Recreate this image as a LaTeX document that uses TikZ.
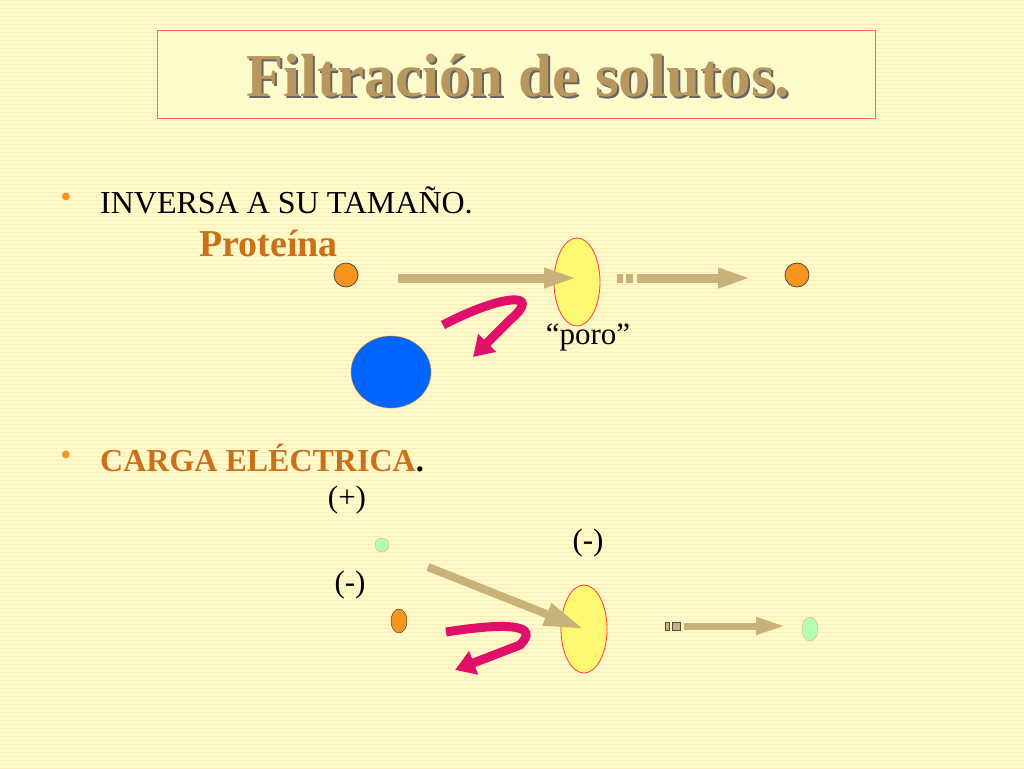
\documentclass[tikz,border=0pt]{standalone}
\usepackage{fontspec}
\setmainfont{Liberation Serif}
\usetikzlibrary{arrows.meta,shapes.geometric}
\definecolor{bg}{HTML}{FEFBCB}
\definecolor{ttl}{HTML}{B8975E}
\definecolor{org}{HTML}{C8701A}
\definecolor{tan}{HTML}{C9B27A}
\definecolor{pinkc}{HTML}{E0106A}
\definecolor{dotor}{HTML}{F7941D}
\definecolor{blu}{HTML}{0066FF}
\begin{document}
\begin{tikzpicture}[x=1pt,y=-1pt,
  fat/.style={line width=9pt,tan,-{Triangle[length=34pt,width=18pt]}},
  pore/.style={ellipse,draw=red!70!pink,fill=yellow!55,minimum width=46pt,minimum height=88pt,inner sep=0pt,line width=0.8pt},
  dot/.style={circle,draw=black!70,fill=dotor,minimum size=24pt,inner sep=0pt,line width=0.8pt},
  curv/.style={line width=9pt,pinkc,-{Triangle[length=20pt,width=24pt]}},
  lbl/.style={font=\fontsize{31}{31}\selectfont,inner sep=0pt}]
\useasboundingbox (0,0) rectangle (1024,768);
\fill[bg] (0,0) rectangle (1024,768);
\foreach \y in {0,4,...,768} \draw[yellow!50!orange!25,line width=0.6pt] (0,\y) -- (1024,\y);
\node[draw=red!60,line width=0.8pt,fill=bg,minimum width=718pt,minimum height=88pt,anchor=north west] (tb) at (157,30) {};
\node[font=\bfseries\fontsize{61}{61}\selectfont,text=black!60,inner sep=0pt] at (520,78) {Filtración de solutos.};
\node[font=\bfseries\fontsize{61}{61}\selectfont,text=ttl,inner sep=0pt] (title) at (518,76) {Filtración de solutos.};
\node[text=dotor,font=\fontsize{32}{32}\selectfont] (b1) at (66,200) {•};
\node[lbl,anchor=west,font=\fontsize{32}{32}\selectfont] (t1) at (100,200) {INVERSA A SU TAMAÑO.};
\node[font=\bfseries\fontsize{38}{38}\selectfont,text=org,anchor=west,inner sep=0pt] (prot) at (199,243) {Proteína};
\node[dot] (o1) at (346,275) {};
\node[pore] (p1) at (577,282) {};
\node[dot] (o2) at (797,275) {};
\coordinate (a1s) at (398,278); \coordinate (a1e) at (578,278);
\draw[fat] (a1s) -- (a1e);
\fill[tan] (617,274) rectangle (623,283) (626,274) rectangle (633,283);
\coordinate (a2s) at (637,278); \coordinate (a2e) at (752,278);
\draw[fat] (a2s) -- (a2e);
\node[lbl] (poro) at (588,337) {“poro”};
\node[ellipse,draw=orange!60!brown,fill=blu,minimum width=80pt,minimum height=72pt] (big) at (391,372) {};
\coordinate (c1s) at (443,325);
\draw[curv] (c1s) .. controls (500,295) and (545,290) .. (510,320) -- (473,357);
\node[text=dotor,font=\fontsize{32}{32}\selectfont] (b2) at (66,458) {•};
\node[lbl,anchor=west,font=\bfseries\fontsize{32}{32}\selectfont] (t2) at (100,458) {\textcolor{org}{CARGA ELÉCTRICA}.};
\node[lbl] (plus) at (347,500) {(+)};
\node[lbl] (m1) at (588,543) {(-)};
\node[lbl] (m2) at (350,585) {(-)};
\node[circle,draw=orange!70,fill=green!30,minimum size=14pt,inner sep=0pt] (g1) at (382,545) {};
\node[ellipse,draw=black!80,fill=dotor,minimum width=16pt,minimum height=24pt,inner sep=0pt] (o3) at (399,621) {};
\node[pore] (p2) at (584,629) {};
\coordinate (a3s) at (428,567);
\draw[line width=8pt,tan,-{Triangle[length=40pt,width=22pt]}] (a3s) -- (p2.center);
\coordinate (c2s) at (446,632);
\draw[curv] (c2s) .. controls (510,622) and (540,625) .. (520,645) -- (455,670);
\draw[fill=tan,draw=black!70] (665,622) rectangle (669,630) (672,622) rectangle (680,630);
\coordinate (a4s) at (684,626); \coordinate (a4e) at (786,626);
\draw[line width=7pt,tan,-{Triangle[length=30pt,width=16pt]}] (a4s) -- (a4e);
\node[ellipse,draw=orange!70,fill=green!30,minimum width=16pt,minimum height=24pt,inner sep=0pt] (g2) at (810,629) {};
\end{tikzpicture}
\end{document}
